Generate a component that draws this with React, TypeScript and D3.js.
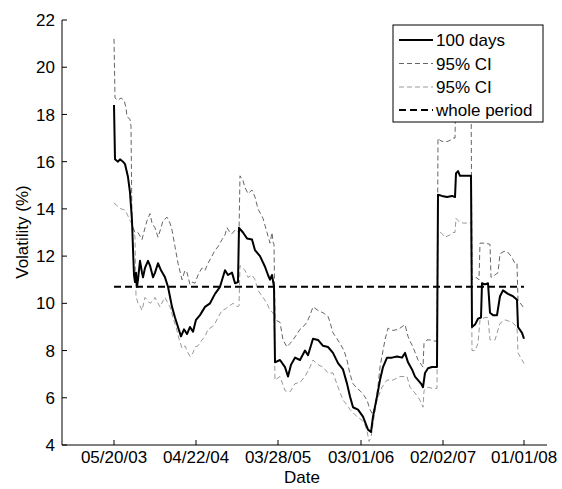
import React from "react";
import * as d3 from "d3";

// trading-day index t, volatility (%)
const main100: [number, number][] = [
  [0, 18.4], [3, 16.1], [12, 16.0], [18, 16.1], [27, 16.0], [33, 15.9], [42, 15.35], [48, 14.7], [54, 13.5], [57, 12.3],
  [60, 11.2], [63, 10.9], [66, 11.3], [69, 10.7], [72, 11.0], [78, 11.8], [84, 11.3], [87, 11.1], [93, 11.5], [102, 11.8],
  [108, 11.6], [117, 11.1], [123, 11.3], [132, 11.7], [141, 11.4], [153, 11.1], [162, 10.7], [174, 9.85], [183, 9.4], [192, 9.0],
  [201, 8.6], [210, 8.9], [219, 8.7], [228, 9.0], [237, 8.8], [246, 9.3], [258, 9.5], [273, 9.85], [288, 10.0], [303, 10.4],
  [318, 10.7], [333, 11.4], [342, 11.2], [354, 11.3], [363, 10.85], [372, 10.9], [375, 13.2], [387, 13.0], [399, 12.75], [414, 12.7],
  [423, 12.25], [438, 12.0], [453, 11.55], [462, 11.2], [468, 11.0], [474, 11.2], [480, 10.7], [483, 7.5], [498, 7.6], [513, 7.3],
  [522, 6.9], [531, 7.4], [543, 7.7], [558, 7.6], [573, 8.0], [582, 7.8], [597, 8.5], [612, 8.45], [627, 8.2], [642, 8.15],
  [657, 7.9], [672, 7.47], [687, 7.2], [699, 6.6], [708, 6.05], [717, 5.6], [732, 5.5], [747, 5.2], [762, 4.65], [771, 4.55],
  [777, 5.2], [789, 6.05], [798, 6.75], [807, 7.3], [819, 7.7], [834, 7.7], [849, 7.75], [864, 7.7], [873, 7.9], [882, 7.5],
  [894, 7.2], [903, 6.9], [912, 6.75], [921, 6.6], [927, 6.45], [933, 7.05], [942, 7.25], [954, 7.3], [969, 7.3], [972, 14.6],
  [984, 14.55], [999, 14.5], [1014, 14.55], [1023, 14.5], [1026, 15.5], [1032, 15.6], [1038, 15.4], [1053, 15.4], [1071, 15.4], [1074, 9.0],
  [1083, 9.1], [1092, 9.35], [1101, 9.4], [1104, 10.85], [1113, 10.8], [1122, 10.85], [1128, 9.6], [1137, 9.5], [1149, 9.5], [1158, 10.3],
  [1167, 10.55], [1182, 10.4], [1197, 10.3], [1209, 10.15], [1212, 9.0], [1224, 8.75], [1230, 8.5],
];

const upperCI: [number, number][] = [
  [0, 21.2], [3, 18.7], [12, 18.6], [21, 18.7], [30, 18.6], [36, 18.3], [39, 17.9], [48, 17.8], [51, 17.5], [54, 13.3],
  [63, 13.0], [72, 13.0], [84, 12.7], [93, 13.2], [99, 13.5], [108, 13.8], [114, 13.4], [123, 13.2], [132, 12.8], [141, 13.2],
  [147, 13.5], [159, 13.65], [168, 13.4], [174, 13.1], [183, 12.4], [192, 11.7], [204, 11.0], [213, 11.4], [219, 11.3], [228, 10.8],
  [234, 10.9], [243, 10.85], [252, 11.2], [264, 11.5], [273, 11.4], [282, 11.7], [294, 12.0], [303, 12.25], [312, 12.4], [324, 12.7],
  [333, 12.9], [339, 13.2], [348, 13.0], [354, 12.95], [363, 13.1], [369, 13.1], [375, 13.0], [378, 15.4], [387, 15.2], [393, 14.9],
  [402, 14.65], [414, 14.8], [423, 14.5], [432, 14.0], [447, 13.6], [453, 13.3], [459, 13.0], [468, 12.55], [474, 13.0], [477, 12.6],
  [480, 12.5], [483, 9.3], [498, 9.2], [507, 8.45], [519, 8.15], [528, 8.3], [537, 8.45], [549, 8.7], [558, 8.9], [567, 9.0],
  [579, 9.2], [588, 9.5], [597, 9.85], [612, 9.7], [627, 9.6], [642, 9.45], [648, 9.2], [657, 8.75], [669, 8.5], [678, 8.3],
  [690, 8.0], [699, 7.6], [708, 7.0], [717, 6.6], [729, 6.4], [738, 6.3], [750, 6.1], [759, 5.9], [768, 5.5], [774, 5.35],
  [783, 5.6], [792, 6.5], [798, 7.3], [807, 8.0], [813, 8.45], [822, 8.95], [837, 8.85], [852, 8.9], [858, 8.95], [873, 9.1],
  [882, 8.6], [888, 8.4], [897, 8.15], [912, 7.6], [927, 7.3], [930, 8.3], [939, 8.45], [948, 8.45], [963, 8.4], [969, 8.4],
  [972, 17.0], [978, 16.9], [987, 16.85], [999, 16.85], [1008, 16.9], [1017, 17.0], [1023, 17.0], [1026, 19.4], [1038, 19.5], [1056, 19.4],
  [1071, 19.5], [1074, 11.0], [1086, 11.1], [1095, 11.0], [1098, 12.55], [1113, 12.55], [1128, 12.5], [1131, 11.1], [1143, 11.2], [1152, 11.3],
  [1158, 12.1], [1170, 12.2], [1179, 12.2], [1191, 12.0], [1203, 11.7], [1209, 11.7], [1212, 10.15], [1227, 9.85], [1230, 9.8],
];

const lowerCI: [number, number][] = [
  [0, 14.25], [12, 14.1], [21, 14.0], [33, 13.95], [42, 13.7], [48, 13.5], [57, 13.3], [63, 12.8], [66, 10.3], [72, 10.0],
  [78, 9.9], [84, 9.7], [93, 10.25], [102, 10.1], [108, 10.0], [117, 10.1], [123, 10.25], [132, 10.0], [138, 9.85], [147, 10.1],
  [153, 10.25], [162, 10.0], [168, 9.85], [177, 9.4], [186, 9.0], [195, 8.5], [204, 8.1], [213, 8.2], [222, 7.9], [228, 7.75],
  [237, 7.9], [243, 8.15], [252, 8.2], [264, 8.45], [273, 8.6], [282, 8.9], [294, 9.0], [303, 9.15], [312, 9.4], [324, 9.7],
  [333, 9.75], [342, 9.85], [357, 10.0], [366, 9.9], [372, 9.85], [375, 9.9], [378, 11.6], [393, 11.4], [402, 11.1], [414, 11.2],
  [423, 11.0], [432, 10.55], [447, 10.25], [459, 10.0], [468, 9.7], [477, 9.6], [480, 9.5], [483, 6.75], [498, 6.9], [513, 6.3],
  [528, 6.25], [543, 6.6], [558, 6.65], [573, 6.9], [588, 7.3], [597, 7.6], [612, 7.4], [627, 7.3], [642, 7.05], [657, 7.05],
  [672, 6.45], [687, 5.9], [699, 5.7], [708, 5.5], [729, 5.2], [744, 5.05], [753, 4.85], [759, 4.6], [765, 4.15], [771, 4.3],
  [777, 4.9], [789, 5.9], [804, 6.45], [819, 6.75], [837, 6.75], [858, 6.9], [879, 6.9], [888, 6.45], [903, 6.2], [918, 5.9],
  [927, 5.6], [930, 6.3], [942, 6.45], [954, 6.4], [969, 6.4], [972, 13.0], [981, 13.0], [993, 12.8], [1008, 12.9], [1017, 13.0],
  [1023, 13.0], [1026, 13.6], [1032, 13.5], [1047, 13.4], [1068, 13.4], [1071, 13.45], [1074, 8.0], [1083, 8.0], [1092, 8.3], [1098, 9.3],
  [1113, 9.4], [1122, 9.4], [1128, 8.45], [1143, 8.45], [1158, 9.15], [1173, 9.3], [1194, 9.2], [1209, 9.0], [1212, 7.9], [1224, 7.6],
  [1230, 7.45],
];

const wholePeriod = 10.7;
const wholeSpan = [0, 1230];

const xTickValues = [0, 246, 492, 741, 987, 1230];
const xTickLabels = ["05/20/03", "04/22/04", "03/28/05", "03/01/06", "02/02/07", "01/01/08"];
const yTickValues = [4, 6, 8, 10, 12, 14, 16, 18, 20, 22];

const legendLabels = ["100 days", "95% CI", "95% CI", "whole period"];

const W = 562;
const H = 489;
const FONT = "'Liberation Sans', Arial, Helvetica, sans-serif";

export default function App() {
  const x = d3.scaleLinear().domain([-156, 1299]).range([62, 547]);
  const y = d3.scaleLinear().domain([4, 22]).range([445, 20]);
  const line = d3
    .line<[number, number]>()
    .x((d) => x(d[0]))
    .y((d) => y(d[1]));

  const styles = [
    { stroke: "#000", width: 2, dash: undefined as string | undefined },
    { stroke: "#666", width: 1, dash: "5,3" },
    { stroke: "#999", width: 1, dash: "5,3" },
    { stroke: "#000", width: 2, dash: "7,4" },
  ];

  const legX = 393, legY = 25, legW = 150, legH = 97;
  const rowYs = [40, 63.5, 87, 110];

  return (
    <svg
      width={W}
      height={H}
      style={{ position: "absolute", left: 0, top: 0, background: "#fff" }}
      fontFamily={FONT}
    >
      <rect x={0} y={0} width={W} height={H} fill="#fff" />
      {/* series */}
      <path d={line(lowerCI) || ""} fill="none" stroke={styles[2].stroke} strokeWidth={1} strokeDasharray={styles[2].dash} />
      <path d={line(upperCI) || ""} fill="none" stroke={styles[1].stroke} strokeWidth={1} strokeDasharray={styles[1].dash} />
      <path d={line(main100) || ""} fill="none" stroke="#000" strokeWidth={2} strokeLinejoin="round" />
      <line
        x1={x(wholeSpan[0])}
        x2={x(wholeSpan[1])}
        y1={y(wholePeriod)}
        y2={y(wholePeriod)}
        stroke="#000"
        strokeWidth={2}
        strokeDasharray={styles[3].dash}
      />

      {/* axes */}
      <line x1={62} x2={62} y1={y(22)} y2={y(4)} stroke="#000" strokeWidth={1} />
      <line x1={62} x2={547} y1={445} y2={445} stroke="#000" strokeWidth={1} />
      {yTickValues.map((v) => (
        <g key={v}>
          <line x1={62} x2={67} y1={y(v)} y2={y(v)} stroke="#000" />
          <text x={55} y={y(v)} dy="0.36em" textAnchor="end" fontSize={17} fill="#000">
            {v}
          </text>
        </g>
      ))}
      {xTickValues.map((t, i) => (
        <g key={t}>
          <line x1={x(t)} x2={x(t)} y1={445} y2={440} stroke="#000" />
          <text x={x(t)} y={463} textAnchor="middle" fontSize={17} fill="#000">
            {xTickLabels[i]}
          </text>
        </g>
      ))}
      <text x={302} y={483} textAnchor="middle" fontSize={17} fill="#000">
        Date
      </text>
      <text
        transform={`translate(28,${232}) rotate(-90)`}
        textAnchor="middle"
        fontSize={17}
        fill="#000"
      >
        Volatility (%)
      </text>

      {/* legend */}
      <rect x={legX} y={legY} width={legW} height={legH} fill="#fff" stroke="#000" strokeWidth={1} />
      {legendLabels.map((lab, i) => (
        <g key={i}>
          <line
            x1={399}
            x2={433}
            y1={rowYs[i]}
            y2={rowYs[i]}
            stroke={styles[i].stroke}
            strokeWidth={styles[i].width}
            strokeDasharray={styles[i].dash}
          />
          <text x={436} y={rowYs[i]} dy="0.36em" fontSize={17} fill="#000">
            {lab}
          </text>
        </g>
      ))}
    </svg>
  );
}
